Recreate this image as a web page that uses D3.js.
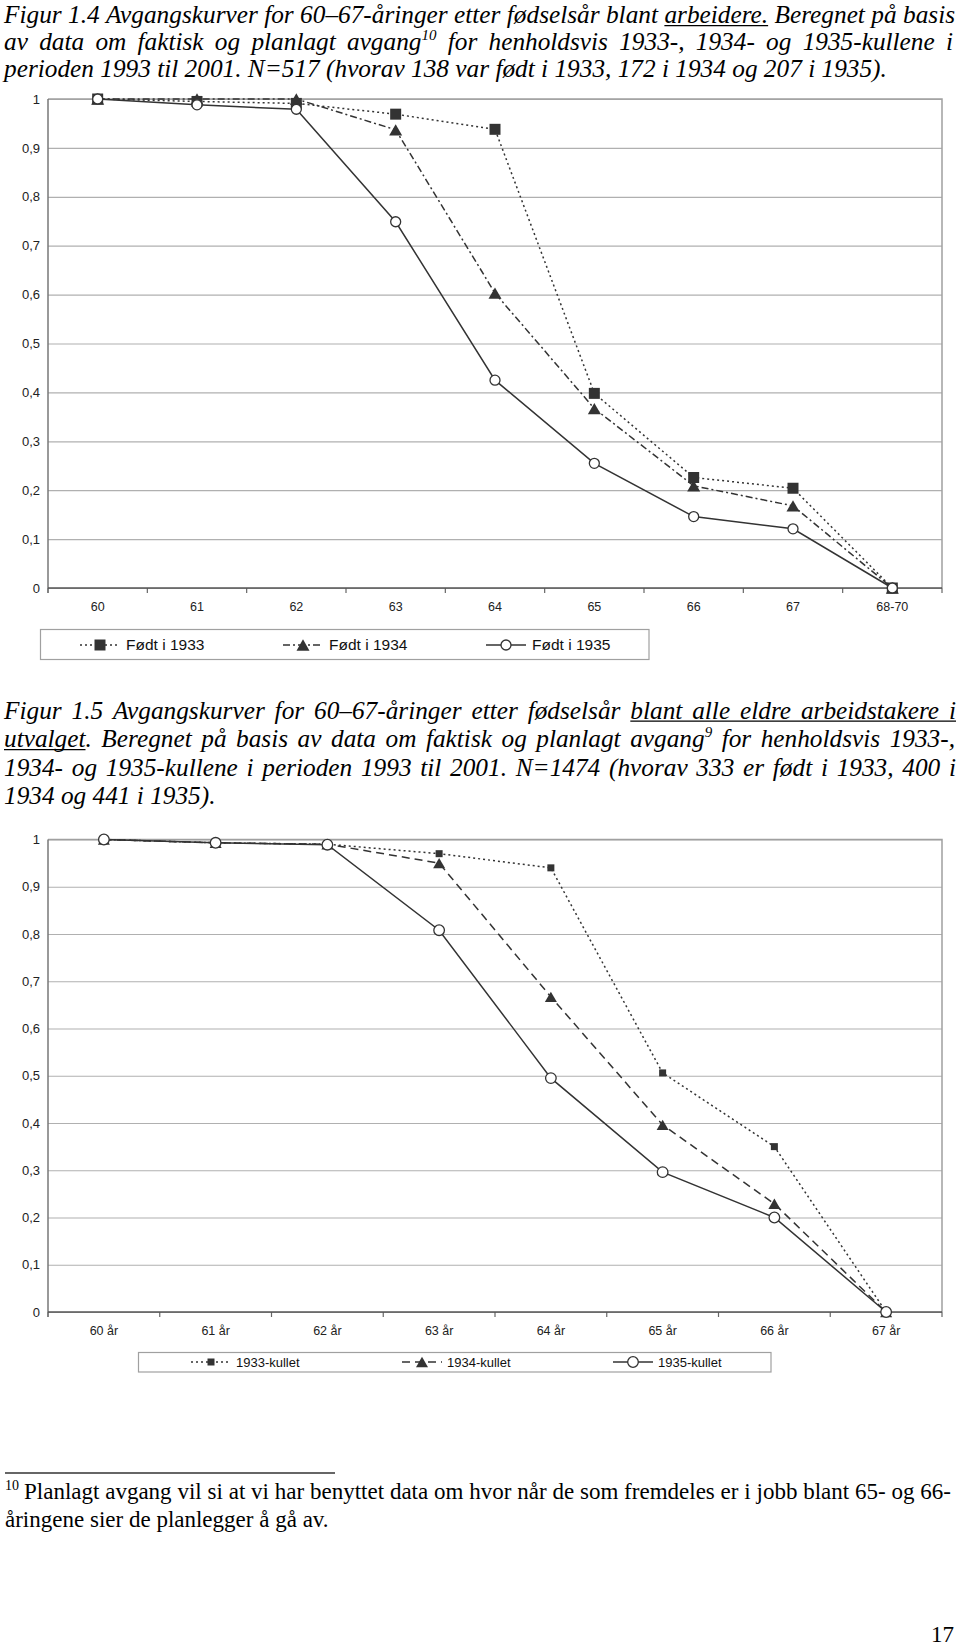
<!DOCTYPE html>
<html><head><meta charset="utf-8">
<script src="https://cdn.jsdelivr.net/npm/d3@7"></script>
<style>html,body{margin:0;padding:0;background:#fff;} svg{display:block;}</style>
</head><body><div id="chart"></div>
<script>
// ---------- DATA ----------
const ages1 = ["60","61","62","63","64","65","66","67","68-70"];
const fodt1933 = [1.0, 0.995, 0.991, 0.969, 0.938, 0.398, 0.226, 0.204, 0];
const fodt1934 = [1.0, 1.0, 1.0, 0.937, 0.603, 0.367, 0.209, 0.168, 0];
const fodt1935 = [1.0, 0.988, 0.979, 0.749, 0.425, 0.255, 0.146, 0.121, 0];
const legend1 = ["Født i 1933","Født i 1934","Født i 1935"];

const ages2 = ["60 år","61 år","62 år","63 år","64 år","65 år","66 år","67 år"];
const kull1933 = [1.0, 0.993, 0.990, 0.970, 0.940, 0.506, 0.350, 0];
const kull1934 = [1.0, 0.993, 0.990, 0.950, 0.667, 0.396, 0.229, 0];
const kull1935 = [1.0, 0.993, 0.989, 0.808, 0.495, 0.296, 0.200, 0];
const legend2 = ["1933-kullet","1934-kullet","1935-kullet"];

const yTickValues = [0,0.1,0.2,0.3,0.4,0.5,0.6,0.7,0.8,0.9,1];

// ---------- SETUP ----------
const W = 960, H = 1647;
const svg = d3.select("#chart").append("svg").attr("width", W).attr("height", H);
const serif = "'Liberation Serif','Times New Roman',serif";
const sans = "'Liberation Sans',Arial,sans-serif";
const nf = d3.formatLocale({decimal: ",", thousands: " ", grouping: [3], currency: ["", ""]}).format(".1~f");
const INK = "#333";

// ---------- TEXT HELPERS ----------
const U = t => [{t: t, u: true}];
function textLine(words, x0, x1, y, size, italic, justify) {
  const g = svg.append("g");
  const items = words.map(w => {
    const pieces = typeof w === "string" ? [{t: w}] : w;
    const t = g.append("text").attr("y", y).attr("font-family", serif)
      .attr("font-size", size).attr("font-style", italic ? "italic" : "normal").attr("fill", "#000");
    const spans = pieces.map(p => {
      const ts = t.append("tspan").text(p.t);
      if (p.sup) ts.attr("font-size", Math.round(size * 0.58)).attr("dy", -size * 0.38);
      return ts;
    });
    const widths = spans.map(s => s.node().getComputedTextLength());
    return {t, pieces, widths, w: d3.sum(widths)};
  });
  const total = d3.sum(items, d => d.w);
  const space = (justify && items.length > 1) ? (x1 - x0 - total) / (items.length - 1) : size * 0.25;
  let cx = x0;
  const segs = [];
  items.forEach(it => {
    it.t.attr("x", cx);
    let px = cx;
    it.pieces.forEach((p, i) => { if (p.u) segs.push([px, px + it.widths[i]]); px += it.widths[i]; });
    cx += it.w + space;
  });
  const merged = [];
  segs.forEach(s => {
    const last = merged[merged.length - 1];
    if (last && s[0] - last[1] <= space + 1) last[1] = s[1]; else merged.push(s.slice());
  });
  merged.forEach(s => g.append("line").attr("x1", s[0]).attr("x2", s[1])
    .attr("y1", y + size * 0.1).attr("y2", y + size * 0.1).attr("stroke", "#000").attr("stroke-width", 1.2));
}
const sp = s => s.split(" ");

// ---------- TITLES ----------
const TS = 25.3;
textLine([...sp("Figur 1.4 Avgangskurver for 60–67-åringer etter fødselsår blant"), U("arbeidere."), ...sp("Beregnet på basis")], 4, 955, 23, TS, true, true);
textLine([...sp("av data om faktisk og planlagt"), [{t: "avgang"}, {t: "10", sup: true}], ...sp("for henholdsvis 1933-, 1934- og 1935-kullene i")], 4, 953, 50, TS, true, true);
textLine(sp("perioden 1993 til 2001. N=517 (hvorav 138 var født i 1933, 172 i 1934 og 207 i 1935)."), 4, 955, 77, TS, true, false);

textLine([...sp("Figur 1.5 Avgangskurver for 60–67-åringer etter fødselsår"), ...sp("blant alle eldre arbeidstakere i").map(U)], 4, 956, 718.5, TS, true, true);
textLine([[{t: "utvalget", u: true}, {t: "."}], ...sp("Beregnet på basis av data om faktisk og planlagt"), [{t: "avgang"}, {t: "9", sup: true}], ...sp("for henholdsvis 1933-,")], 4, 955, 747, TS, true, true);
textLine(sp("1934- og 1935-kullene i perioden 1993 til 2001. N=1474 (hvorav 333 er født i 1933, 400 i"), 4, 956, 775.5, TS, true, true);
textLine(sp("1934 og 441 i 1935)."), 4, 955, 804, TS, true, false);

// ---------- FOOTNOTE ----------
svg.append("line").attr("x1", 5).attr("x2", 335).attr("y1", 1473).attr("y2", 1473).attr("stroke", "#333").attr("stroke-width", 1.5);
svg.append("text").attr("x", 5).attr("y", 1490).attr("font-family", serif).attr("font-size", 14).text("10");
textLine(sp("Planlagt avgang vil si at vi har benyttet data om hvor når de som fremdeles er i jobb blant 65- og 66-"), 24, 951, 1498.5, 23, false, true);
textLine(sp("åringene sier de planlegger å gå av."), 5, 951, 1526.5, 23, false, false);
svg.append("text").attr("x", 954).attr("y", 1642).attr("text-anchor", "end").attr("font-family", serif).attr("font-size", 23).text("17");

// ---------- CHART ----------
function marker(g, type, cx, cy, s) {
  if (type === "circle") {
    g.append("circle").attr("cx", cx).attr("cy", cy).attr("r", s).attr("fill", "#fff").attr("stroke", INK).attr("stroke-width", 1.3);
  } else if (type === "square") {
    g.append("path").attr("d", d3.symbol(d3.symbolSquare, s * s)()).attr("transform", `translate(${cx},${cy})`).attr("fill", INK);
  } else {
    const h = s * Math.sqrt(3) / 2;
    g.append("path").attr("d", `M0,${-h/2}L${s/2},${h/2}L${-s/2},${h/2}Z`).attr("transform", `translate(${cx},${cy})`).attr("fill", INK);
  }
}

function drawChart(cfg) {
  const {cats, series, top, bottom, left, right} = cfg;
  const x = d3.scaleBand().domain(cats).range([left, right]);
  const y = d3.scaleLinear().domain([0, 1]).range([bottom, top]);
  const g = svg.append("g");
  g.append("g").attr("transform", `translate(${left},0)`)
    .call(d3.axisLeft(y).tickValues(yTickValues).tickSize(-(right - left)).tickFormat(""))
    .call(a => a.select(".domain").remove())
    .call(a => a.selectAll("line").attr("stroke", "#b0b0b0").attr("stroke-width", 1.2));
  g.append("path").attr("d", `M${left},${top}H${right}V${bottom}`).attr("fill", "none").attr("stroke", "#a0a0a0").attr("stroke-width", 1.5);
  g.append("g").attr("transform", `translate(${left - 8},0)`)
    .call(d3.axisLeft(y).tickValues(yTickValues).tickSize(0).tickPadding(0).tickFormat(nf))
    .call(a => a.select(".domain").remove())
    .call(a => a.selectAll("text").attr("font-family", sans).attr("font-size", 13).attr("fill", "#222"));
  g.append("g").attr("transform", `translate(0,${bottom})`)
    .call(d3.axisBottom(x).tickSize(0).tickPadding(14.5))
    .call(a => a.select(".domain").remove())
    .call(a => a.selectAll("text").attr("font-family", sans).attr("font-size", 12.5).attr("fill", "#222"));
  const bounds = cats.map(c => x(c)).concat([right]);
  g.selectAll(".xt").data(bounds).enter().append("line")
    .attr("x1", d => d).attr("x2", d => d).attr("y1", bottom).attr("y2", bottom + 5)
    .attr("stroke", "#666").attr("stroke-width", 1.2);
  g.append("line").attr("x1", left).attr("x2", left).attr("y1", top).attr("y2", bottom + 5).attr("stroke", "#777").attr("stroke-width", 1.5);
  g.append("line").attr("x1", left).attr("x2", right).attr("y1", bottom).attr("y2", bottom).attr("stroke", "#555").attr("stroke-width", 1.6);
  const cx = i => x(cats[i]) + x.bandwidth() / 2;
  const line = d3.line().x((d, i) => cx(i)).y(d => y(d));
  series.forEach(s => {
    g.append("path").attr("d", line(s.values)).attr("fill", "none").attr("stroke", INK)
      .attr("stroke-width", 1.5).attr("stroke-dasharray", s.dash || null);
  });
  series.forEach(s => {
    s.values.forEach((v, i) => marker(g, s.marker, cx(i), y(v), s.size));
  });
}

function drawLegend(cfg) {
  const {box, xs, cy, font, names, series} = cfg;
  const g = svg.append("g");
  g.append("rect").attr("x", box[0]).attr("y", box[1]).attr("width", box[2]).attr("height", box[3])
    .attr("fill", "#fff").attr("stroke", "#a0a0a0").attr("stroke-width", 1.2);
  series.forEach((s, i) => {
    const x0 = xs[i];
    g.append("line").attr("x1", x0).attr("x2", x0 + 40).attr("y1", cy).attr("y2", cy)
      .attr("stroke", INK).attr("stroke-width", 1.5).attr("stroke-dasharray", s.dash || null);
    marker(g, s.marker, x0 + 20, cy, s.size);
    g.append("text").attr("x", x0 + cfg.textOff).attr("y", cy + font * 0.35)
      .attr("font-family", sans).attr("font-size", font).attr("fill", "#111").text(names[i]);
  });
}

const series1 = [
  {values: fodt1933, marker: "square", size: 11, dash: "2,3"},
  {values: fodt1934, marker: "triangle", size: 13, dash: "7,3,2,3"},
  {values: fodt1935, marker: "circle", size: 5, dash: null}
];
drawChart({cats: ages1, series: series1, top: 99, bottom: 588, left: 48, right: 942});
drawLegend({box: [40.5, 629.5, 608.5, 30], xs: [80, 283, 486], cy: 645, font: 15.5, textOff: 46, names: legend1, series: series1});

const series2 = [
  {values: kull1933, marker: "square", size: 7, dash: "2,3"},
  {values: kull1934, marker: "triangle", size: 12, dash: "8,5"},
  {values: kull1935, marker: "circle", size: 5.3, dash: null}
];
drawChart({cats: ages2, series: series2, top: 839.5, bottom: 1312, left: 48, right: 942});
drawLegend({box: [138.5, 1352.5, 632.5, 19.5], xs: [191, 402, 613], cy: 1362, font: 13, textOff: 45, names: legend2, series: series2});
</script>
</body></html>
